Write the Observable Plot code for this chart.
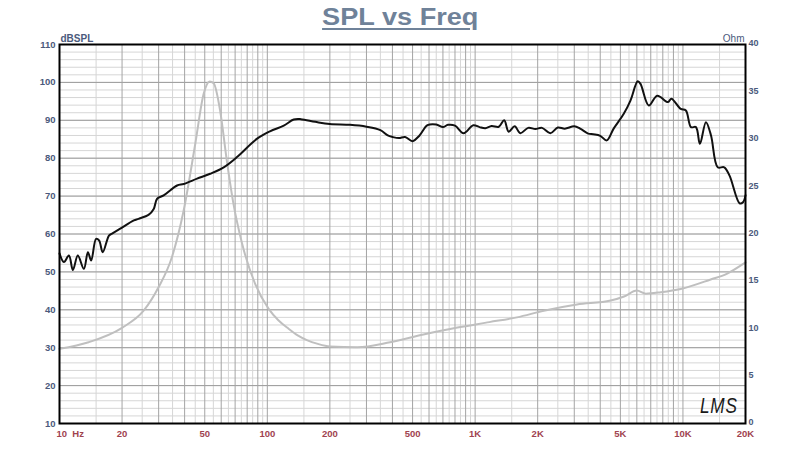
<!DOCTYPE html>
<html>
<head>
<meta charset="utf-8">
<script src="https://cdn.jsdelivr.net/npm/d3@7"></script>
<script src="https://cdn.jsdelivr.net/npm/@observablehq/plot@0.6"></script>
<style>
  html, body { margin: 0; padding: 0; background: #fff; }
  #wrap { position: relative; width: 800px; height: 450px; overflow: hidden; }
  #title { height: 34px; line-height: 34px; text-align: center; font-family: "Liberation Sans", Arial, sans-serif;
           font-weight: bold; font-size: 23px; color: #6f8299; }
  #title span { display: inline-block; transform: scaleX(1.18); text-decoration: underline; text-decoration-thickness: 2px; text-underline-offset: 3px; }
  #logo { position: absolute; left: 700px; top: 393px; font-family: "Liberation Sans", Arial, sans-serif; font-style: italic;
          font-size: 22px; color: #1a1a1a; transform: scaleX(0.78); transform-origin: left top; letter-spacing: 1px; }
</style>
</head>
<body>
<div id="wrap">
  <div id="title"><span>SPL vs Freq</span></div>
  <div id="chart"></div>
  <div id="logo">LMS</div>
</div>
<script>
// SPL response (black)
const splFreq = [10, 10.5, 11.1, 11.6, 12.25, 13.1, 13.7, 14.2, 15.0, 15.5, 16.15, 17.3, 17.9, 19.6, 22.8, 24.0, 26.9, 28.4, 29.5, 31.7, 36.8, 39.6, 45.9, 53.1, 61.7, 71.5, 89, 103, 120, 134, 145, 170, 200, 250, 300, 350, 380, 400, 430, 460, 500, 540, 590, 650, 700, 740, 800, 880, 980, 1050, 1120, 1200, 1300, 1380, 1450, 1550, 1650, 1800, 1950, 2100, 2300, 2500, 2700, 3000, 3200, 3500, 3700, 4000, 4300, 4640, 5190, 5590, 6060, 6250, 6850, 7520, 8470, 8800, 9760, 10330, 10930, 11550, 12070, 12900, 13650, 14700, 15800, 16760, 18740, 19460, 20000];
const splDb   = [54.9, 52.6, 54.3, 50.5, 54.3, 50.8, 55.2, 53.0, 58.7, 58.3, 55.2, 59.6, 60.1, 61.4, 63.6, 64.0, 65.1, 66.6, 69.3, 70.2, 72.8, 73.2, 74.6, 75.9, 77.6, 80.3, 85.1, 87.1, 88.6, 90.2, 90.3, 89.6, 89.0, 88.8, 88.3, 87.4, 86.0, 85.6, 85.3, 85.6, 84.5, 86.0, 88.7, 88.9, 88.2, 88.8, 88.6, 86.6, 88.7, 88.2, 87.9, 88.5, 88.3, 90.0, 87.0, 88.4, 86.6, 88.0, 87.7, 88.0, 86.6, 88.1, 87.8, 88.4, 87.8, 86.5, 86.3, 85.9, 84.7, 87.8, 91.7, 95.2, 100.3, 99.6, 93.9, 96.5, 94.8, 95.7, 93.0, 92.6, 88.2, 88.2, 83.8, 89.5, 86.0, 77.6, 77.6, 75.4, 68.1, 68.4, 70.2];

// Impedance (grey), in ohms
const impFreq = [10, 13.8, 20, 25.4, 30, 34.8, 39.6, 45, 49.4, 52.8, 55.2, 59.3, 63.8, 68.7, 75.6, 87.5, 101.5, 113, 126.6, 140, 155, 175, 200, 271, 390, 564, 811, 1170, 1590, 2140, 3090, 4490, 5210, 6000, 6630, 7830, 9760, 13600, 16240, 20000];
const impOhm  = [7.88, 8.58, 10.1, 11.9, 14.4, 17.6, 22.5, 29.5, 34.8, 36.1, 35.9, 33.0, 27.8, 23.2, 19.0, 14.7, 12.1, 10.9, 10.0, 9.3, 8.8, 8.4, 8.13, 8.05, 8.58, 9.39, 10.1, 10.7, 11.2, 11.9, 12.56, 12.98, 13.4, 14.04, 13.7, 13.86, 14.2, 15.2, 15.8, 17.0];

// Axes
const freqTicks  = [10, 20, 50, 100, 200, 500, 1000, 2000, 5000, 10000, 20000];
const freqLabels = ["10\u00a0\u00a0Hz", "20", "50", "100", "200", "500", "1K", "2K", "5K", "10K", "20K"];
const dbTicks    = [10, 20, 30, 40, 50, 60, 70, 80, 90, 100, 110];
const ohmTicks   = [0, 5, 10, 15, 20, 25, 30, 35, 40];
const decades    = [10, 100, 1000, 10000];
const wholeMult  = [1, 2, 3, 4, 5, 6, 7, 8, 9];
const halfMult   = [1.5, 2.5, 3.5, 4.5, 5.5, 6.5, 7.5, 8.5, 9.5];
const dbMinor    = d3.range(10, 111, 2);

const ohmToDb = o => 10 + o * 2.5;   // right axis 0..40 Ohm maps onto 10..110 dB
const inDomain = f => f >= 10 && f <= 20000;
const wholeGrid = decades.flatMap(d => wholeMult.map(m => d * m)).concat([20000]).filter(inDomain);
const halfGrid  = decades.flatMap(d => halfMult.map(m => d * m)).filter(inDomain);

const spl = splFreq.map((f, i) => ({f, v: splDb[i]}));
const imp = impFreq.map((f, i) => ({f, v: ohmToDb(impOhm[i])}));
const xLabels = freqTicks.map((f, i) => ({f, t: freqLabels[i]}));

const chart = Plot.plot({
  width: 800, height: 416,
  marginTop: 10, marginLeft: 59, marginRight: 55, marginBottom: 27,
  x: {type: "log", domain: [10, 20000], axis: null},
  y: {domain: [10, 110], axis: null},
  style: {fontFamily: "'Liberation Sans', Arial, sans-serif", background: "white", overflow: "visible"},
  marks: [
    Plot.gridY(dbMinor, {stroke: "#d6d6d6", strokeOpacity: 1}),
    Plot.gridX(halfGrid, {stroke: "#d6d6d6", strokeOpacity: 1}),
    Plot.gridY(dbTicks, {stroke: "#9c9c9c", strokeOpacity: 1}),
    Plot.gridX(wholeGrid, {stroke: "#a4a4a4", strokeOpacity: 1}),
    Plot.line(imp, {x: "f", y: "v", stroke: "#bfbfbf", strokeWidth: 2, curve: "monotone-x"}),
    Plot.line(spl, {x: "f", y: "v", stroke: "#111", strokeWidth: 2, curve: "catmull-rom"}),
    Plot.frame({stroke: "#000", strokeWidth: 2}),
    Plot.axisY(dbTicks, {anchor: "left", tickSize: 0, tickPadding: 4, fill: "#4b5a7c", label: null, fontWeight: "bold", fontSize: 9.5}),
    Plot.axisY(ohmTicks.map(ohmToDb), {anchor: "right", tickSize: 0, tickPadding: 3, fill: "#4b5a7c", label: null,
      tickFormat: d => String(Math.round((d - 10) / 2.5)), fontWeight: "bold", fontSize: 9, dy: -1}),
    Plot.text(xLabels.slice(1), {x: "f", text: "t", frameAnchor: "bottom", lineAnchor: "middle", dy: 10,
      fill: "#a0434f", fontWeight: "bold", fontSize: 9.5}),
    Plot.text(xLabels.slice(0, 1), {x: "f", text: "t", frameAnchor: "bottom", lineAnchor: "middle", dy: 10,
      textAnchor: "start", dx: -3, fill: "#a0434f", fontWeight: "bold", fontSize: 9.5}),
    Plot.text(["dBSPL"], {frameAnchor: "top-left", textAnchor: "start", lineAnchor: "bottom", dx: 1, dy: -3, fill: "#4b5a7c", fontSize: 10, fontWeight: "bold"}),
    Plot.text(["Ohm"], {frameAnchor: "top-right", textAnchor: "end", lineAnchor: "bottom", dx: -1, dy: -3, fill: "#4b5a7c", fontSize: 10})
  ]
});
document.getElementById("chart").appendChild(chart);
</script>
</body>
</html>
